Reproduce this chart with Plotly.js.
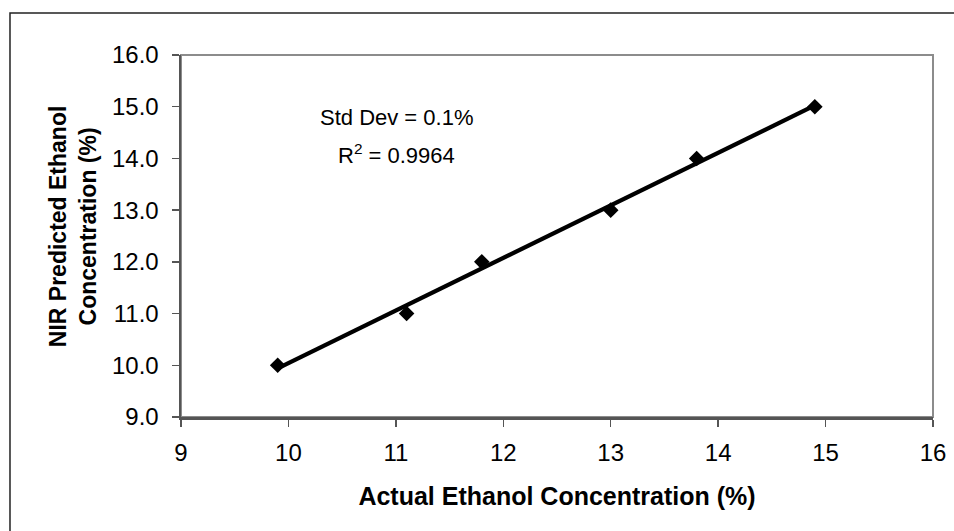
<!DOCTYPE html>
<html>
<head>
<meta charset="utf-8">
<script src="https://cdn.plot.ly/plotly-3.0.1.min.js"></script>
<style>
html,body{margin:0;padding:0;background:#fff;}
#chart{width:954px;height:531px;}
</style>
</head>
<body>
<div id="chart"></div>
<script>
// Data
const actualEthanol = [9.9, 11.1, 11.8, 13.0, 13.8, 14.9];
const nirPredicted = [10.0, 11.0, 12.0, 13.0, 14.0, 15.0];
const xTickVals = [9, 10, 11, 12, 13, 14, 15, 16];
const yTickVals = [9, 10, 11, 12, 13, 14, 15, 16];
const statLines = ["Std Dev = 0.1%", "R<sup>2</sup> = 0.9964"];

// Linear trendline (least squares) computed from the data
const n = actualEthanol.length;
const mx = actualEthanol.reduce((a, b) => a + b, 0) / n;
const my = nirPredicted.reduce((a, b) => a + b, 0) / n;
let sxy = 0, sxx = 0;
for (let i = 0; i < n; i++) {
  sxy += (actualEthanol[i] - mx) * (nirPredicted[i] - my);
  sxx += (actualEthanol[i] - mx) ** 2;
}
const slope = sxy / sxx;
const intercept = my - slope * mx;
const xMin = Math.min(...actualEthanol), xMax = Math.max(...actualEthanol);
const trendX = [xMin, xMax];
const trendY = trendX.map(x => slope * x + intercept);

const font = "Liberation Sans, Arial, sans-serif";
const pad = "&nbsp;&nbsp;&nbsp;";

const traces = [
  {
    x: trendX, y: trendY, type: "scatter", mode: "lines",
    line: {color: "#000", width: 4.3}, hoverinfo: "skip", showlegend: false
  },
  {
    x: actualEthanol, y: nirPredicted, type: "scatter", mode: "markers",
    marker: {symbol: "diamond", size: 12, color: "#000"}, showlegend: false
  }
];

const layout = {
  width: 954, height: 531,
  margin: {l: 181, r: 21, t: 55, b: 114},
  paper_bgcolor: "#fff", plot_bgcolor: "#fff",
  font: {family: font, color: "#000", size: 24},
  showlegend: false,
  xaxis: {
    range: [9, 16], tickvals: xTickVals, ticktext: xTickVals.map(String),
    showgrid: false, zeroline: false,
    showline: true, linecolor: "#555", linewidth: 2.5,
    ticks: "outside", ticklen: 7, tickwidth: 1.5, tickcolor: "#555",
    tickfont: {size: 24, family: font, color: "#000"},
    ticklabelstandoff: 6,
    title: {text: "<b>Actual Ethanol Concentration (%)</b>", font: {size: 25, family: font, color: "#000"}, standoff: 22}
  },
  yaxis: {
    range: [9, 16], tickvals: yTickVals, ticktext: yTickVals.map(v => v.toFixed(1)),
    showgrid: false, zeroline: false,
    showline: true, linecolor: "#555", linewidth: 2.5,
    ticks: "outside", ticklen: 7, tickwidth: 1.5, tickcolor: "#555",
    tickfont: {size: 24, family: font, color: "#000"},
    ticklabelstandoff: 8,
    title: {text: "<b>" + pad + "NIR Predicted Ethanol<br>" + pad + "Concentration (%)</b>", font: {size: 23, family: font, color: "#000"}, standoff: 9}
  },
  shapes: [
    {type: "rect", xref: "paper", yref: "paper", x0: 0, x1: 1, y0: 0, y1: 1,
     line: {color: "#8c8c8c", width: 2}, layer: "below"},
    {type: "rect", xref: "paper", yref: "paper", x0: -0.2274, x1: 1.06, y0: -0.36, y1: 1.116,
     line: {color: "#222", width: 1.5}, fillcolor: "rgba(0,0,0,0)"}
  ],
  annotations: [
    {xref: "paper", yref: "paper", x: 0.286, y: 0.826, xanchor: "center", yanchor: "middle",
     text: statLines[0], showarrow: false, font: {size: 22, family: font, color: "#000"}},
    {xref: "paper", yref: "paper", x: 0.287, y: 0.727, xanchor: "center", yanchor: "middle",
     text: statLines[1], showarrow: false, font: {size: 22, family: font, color: "#000"}}
  ]
};

Plotly.newPlot("chart", traces, layout, {displayModeBar: false, staticPlot: true});
</script>
</body>
</html>
